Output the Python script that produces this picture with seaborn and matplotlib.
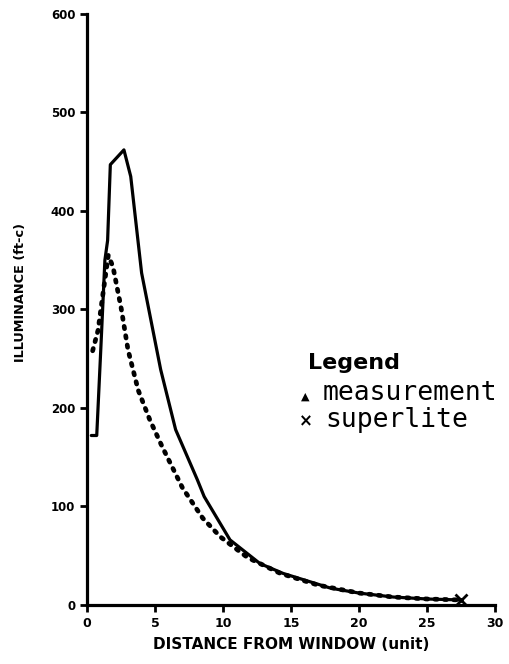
import matplotlib
matplotlib.use("Agg")
import matplotlib.pyplot as plt
import seaborn as sns
import pandas as pd

# measurement curve (solid)
meas_x = [0.3, 0.7, 1.0, 1.3, 1.5, 1.7, 2.7, 3.2, 4.0, 5.4, 6.5, 8.1, 8.6,
          10.5, 12.7, 14.4, 17.9, 20.0, 22.5, 25.0, 27.5]
meas_y = [172, 172, 260, 350, 370, 447, 462, 435, 337, 239, 178, 127, 110,
          66, 42, 32, 17, 12, 8, 6, 5]

# superlite curve (dotted)
sup_x = [0.4, 0.8, 1.1, 1.55, 1.9, 2.5, 3.0, 3.75, 4.6, 5.5, 7.0, 8.5, 9.8,
         11.8, 14.2, 17.0, 20.0, 22.5, 25.0, 27.5]
sup_y = [258, 279, 310, 355, 343, 301, 259, 218, 188, 161, 119, 88, 69,
         48, 32, 20, 12, 8, 6, 5]

x_ticks = [0, 5, 10, 15, 20, 25, 30]
y_ticks = [0, 100, 200, 300, 400, 500, 600]

meas = pd.DataFrame({"x": meas_x, "y": meas_y})
sup = pd.DataFrame({"x": sup_x, "y": sup_y})

sns.set_style("ticks", {"text.color": "black", "axes.labelcolor": "black",
                        "xtick.color": "black", "ytick.color": "black",
                        "axes.edgecolor": "black"})
plt.rcParams["font.family"] = ["DejaVu Sans"]

fig = plt.figure(figsize=(5.1, 6.64), dpi=100)
ax = fig.add_axes([0.171, 0.089, 0.80, 0.89])

sns.lineplot(data=meas, x="x", y="y", ax=ax, color="black", linewidth=2.3,
             estimator=None, sort=False)
# dotted superlite
sns.lineplot(data=sup, x="x", y="y", ax=ax, color="black", linewidth=3.4,
             estimator=None, sort=False, linestyle=(0, (0.5, 1.5)),
             dash_capstyle="round")
ax.plot([meas_x[-1]], [meas_y[-1]], marker="x", color="black",
        markersize=8, markeredgewidth=2)

ax.set_xlim(0, 30)
ax.set_ylim(0, 600)
ax.set_xticks(x_ticks)
ax.set_yticks(y_ticks)
ax.set_xticklabels([str(t) for t in x_ticks], fontweight="bold", fontsize=9)
ax.set_yticklabels([str(t) for t in y_ticks], fontweight="bold", fontsize=8.5)
ax.tick_params(axis="both", width=2, length=5)
for side in ["top", "right"]:
    ax.spines[side].set_visible(False)
for side in ["left", "bottom"]:
    ax.spines[side].set_linewidth(2.3)

ax.set_xlabel("DISTANCE FROM WINDOW (unit)", fontweight="bold", fontsize=11,
              labelpad=5)
ax.set_ylabel("ILLUMINANCE (ft-c)", fontweight="bold", fontsize=9.3)
ax.yaxis.set_label_coords(-0.147, 0.528)

# hand-lettered legend
ax.text(16.25, 240, "Legend", fontsize=16, fontweight="bold")
ax.text(15.7, 208, "\u25b2", fontsize=8)
ax.text(17.3, 208, "measurement", fontsize=19,
        family=["DejaVu Sans Mono"])
ax.text(15.6, 181, "\u00d7", fontsize=12, fontweight="bold")
ax.text(17.5, 181, "superlite", fontsize=19,
        family=["DejaVu Sans Mono"])

fig.savefig("out.png", dpi=100)
